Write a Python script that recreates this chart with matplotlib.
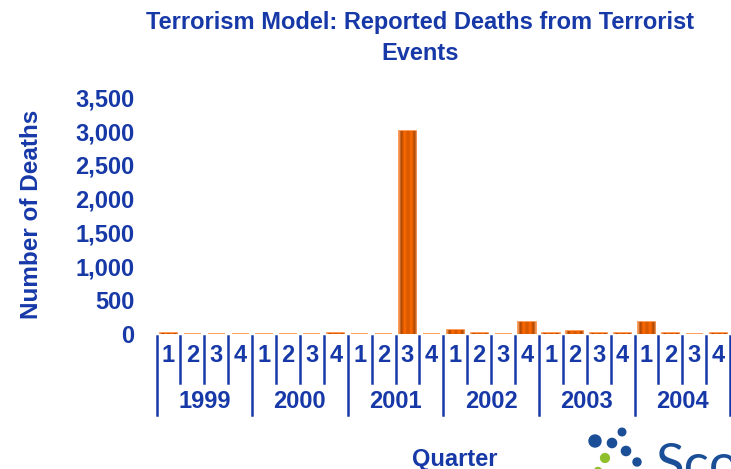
import numpy as np
import matplotlib
matplotlib.use("Agg")
import matplotlib.pyplot as plt
from matplotlib.colors import LinearSegmentedColormap
from matplotlib.transforms import blended_transform_factory
from matplotlib.lines import Line2D
from matplotlib.patches import Circle

# ---- data -------------------------------------------------------------
years = ["1999", "2000", "2001", "2002", "2003", "2004"]
quarters = ["1", "2", "3", "4"]
deaths = [
    15, 0, 0, 0,        # 1999
    0, 0, 0, 15,        # 2000
    0, 0, 3000, 0,      # 2001
    55, 15, 0, 170,     # 2002
    15, 50, 15, 15,     # 2003
    170, 15, 0, 15,     # 2004
]
y_ticks = [0, 500, 1000, 1500, 2000, 2500, 3000, 3500]

BLUE = "#1739a8"
ORANGE = "#ff6600"
FONT = "Liberation Sans"

W, H = 731, 469
fig = plt.figure(figsize=(W / 100, H / 100), dpi=100)
fig.patch.set_facecolor("white")

ax = fig.add_axes([156.5 / W, 1 - 334 / H, (730.2 - 156.5) / W, (334 - 97.2) / H])
ax.set_facecolor("none")

n = len(deaths)
x = np.arange(n)
bars = ax.bar(x, deaths, width=0.72, color=ORANGE, edgecolor="#ff8a3d",
              linewidth=1.2, zorder=2)

# cylinder-like shading across each bar
shade = LinearSegmentedColormap.from_list(
    "shade",
    [(0.0, "#ffa060"), (0.12, "#a84400"), (0.3, "#ff6a00"),
     (0.5, "#d05600"), (0.7, "#ff6a00"), (0.88, "#a84400"), (1.0, "#ffa060")])
grad = np.linspace(0, 1, 64).reshape(1, -1)
for b in bars:
    h = b.get_height()
    if h <= 0:
        continue
    x0 = b.get_x()
    im = ax.imshow(grad, extent=[x0, x0 + b.get_width(), 0, h],
                   aspect="auto", cmap=shade, zorder=3, interpolation="bilinear")
    im.set_clip_path(b)

ax.set_xlim(-0.5, n - 0.5)
ax.set_ylim(0, 3500)
ax.set_yticks(y_ticks)
ax.set_yticklabels([f"{v:,}" for v in y_ticks])
ax.tick_params(axis="y", length=0, pad=16, labelsize=17, labelcolor=BLUE)
for lab in ax.get_yticklabels():
    lab.set_fontfamily(FONT)
    lab.set_fontweight("bold")
ax.set_xticks([])
for s in ax.spines.values():
    s.set_visible(False)

# two-level category axis: quarter numbers, year names and separators
tr = blended_transform_factory(ax.transData, fig.transFigure)
for i in range(n):
    ax.text(i, 1 - 355 / H, quarters[i % 4], transform=tr, ha="center",
            va="center", fontsize=17, fontweight="bold", color=BLUE,
            family=FONT, clip_on=False)
for j, yr in enumerate(years):
    ax.text(j * 4 + 1.5, 1 - 402 / H, yr, transform=tr, ha="center",
            va="center", fontsize=17, fontweight="bold", color=BLUE,
            family=FONT, clip_on=False)
for k in range(n + 1):
    y_low = 1 - 415 / H if k % 4 == 0 else 1 - 383 / H
    ax.add_line(Line2D([k - 0.5, k - 0.5], [1 - 336 / H, y_low], transform=tr,
                       color=BLUE, linewidth=1.8, clip_on=False))

# titles
fig.text(420 / W, 1 - 22 / H, "Terrorism Model: Reported Deaths from Terrorist",
         ha="center", va="center", fontsize=17, fontweight="bold",
         color=BLUE, family=FONT)
fig.text(420 / W, 1 - 53 / H, "Events", ha="center", va="center",
         fontsize=17, fontweight="bold", color=BLUE, family=FONT)
fig.text(32 / W, 1 - 214 / H, "Number of Deaths", rotation=90, ha="center",
         va="center", fontsize=17.5, fontweight="bold", color=BLUE, family=FONT)
fig.text(455 / W, 1 - 459 / H, "Quarter", ha="center", va="center",
         fontsize=17, fontweight="bold", color=BLUE, family=FONT)

# corner logo
deco = fig.add_axes([0, 0, 1, 1], zorder=5)
deco.set_xlim(0, W)
deco.set_ylim(H, 0)
deco.axis("off")
deco.patch.set_alpha(0)
for cx, cy, r, c in [(595, 441, 6, "#1a4e96"), (622, 432, 3.8, "#1a4e96"),
                     (612, 443, 4.6, "#1a4e96"), (626, 451, 4.6, "#1a4e96"),
                     (637, 462, 4, "#1a4e96"), (605, 458, 4.4, "#8fbf2a"),
                     (598, 471, 3.5, "#8fbf2a")]:
    deco.add_patch(Circle((cx, cy), r, color=c, clip_on=False))
deco.text(655, 481, "Sco", fontsize=38, color="#1a4e96", family="Lato",
          fontweight="normal", ha="left", va="baseline")

fig.savefig("out.png", dpi=100, facecolor="white")
